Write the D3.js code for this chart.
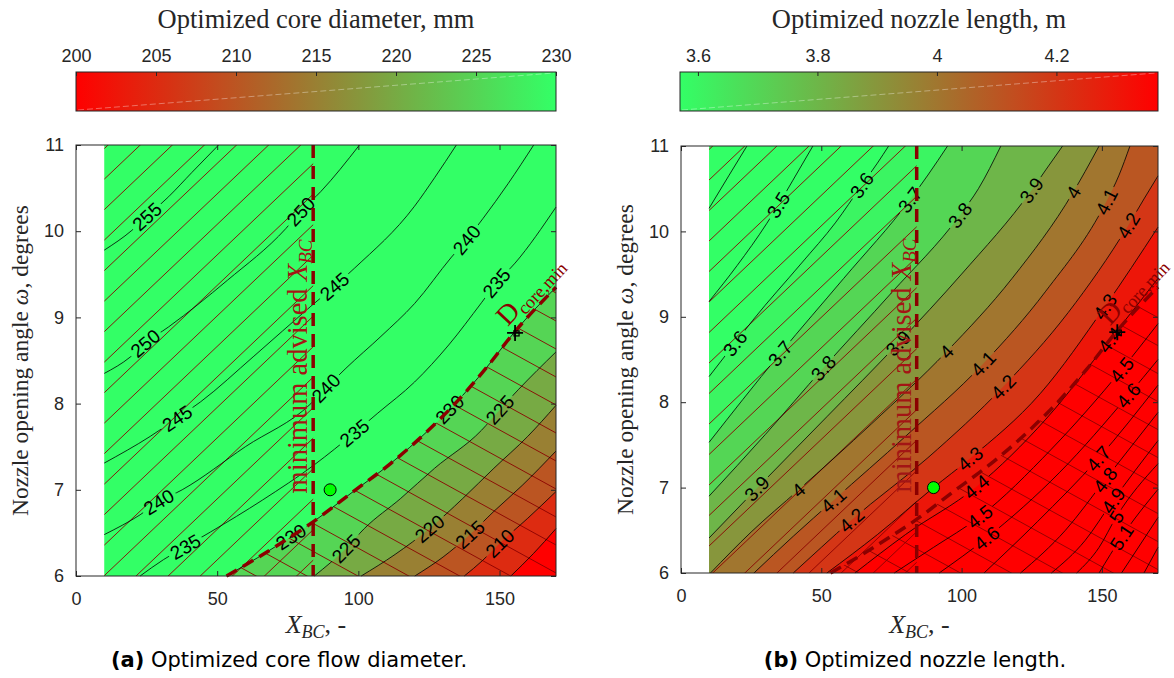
<!DOCTYPE html>
<html><head><meta charset="utf-8">
<script src="https://cdn.jsdelivr.net/npm/d3@7"></script>
<style>html,body{margin:0;padding:0;background:#fff;} svg{display:block;}</style>
</head><body>
<svg id="fig" width="1174" height="678"></svg>
<script>
// ================= DATA =================
const xTicks = [0, 50, 100, 150];
const yTicks = [6, 7, 8, 9, 10, 11];
const xDomain = [0, 170];
const yDomain = [6, 11];
const dataXMin = 10;
const minAdvisedXBC = 84;
const chosenPoint = [90, 7];
const dMinMarker = [155.5, 8.82];
const dLabelAnchor = [152.9, 8.89];
// D_core,min boundary curve (identical in both panels)
const dCurveX = [53.3, 64.2, 72.5, 83.2, 97.4, 111.6, 124.8, 135.4, 144.7, 155.3, 170];
const dCurveY = [6.0, 6.21, 6.38, 6.61, 6.96, 7.31, 7.69, 8.04, 8.39, 8.83, 9.35];

// ---- panel (a): optimized core diameter, mm ----
const colorTicksA = [200, 205, 210, 215, 220, 225, 230];
const colorDomainA = [200, 230];
const levelsA = [255, 250, 245, 240, 235, 230, 225, 220, 215, 210, 205];
const linesA = [
  [[10,9.78],[19.8,10.01],[25.1,10.17],[32.8,10.40],[41,10.68],[50.5,11.0]],
  [[10,8.35],[19.2,8.54],[24.5,8.70],[32.8,8.89],[53.6,9.43],[74.3,10.03],[79.6,10.23],[86.7,10.46],[100.4,11.0]],
  [[10,7.31],[26.3,7.62],[35.8,7.83],[44.1,8.02],[63,8.55],[83.2,9.13],[91.5,9.36],[98.6,9.57],[119.9,10.29],[127,10.62],[134.7,11.0]],
  [[10,6.48],[22.7,6.71],[29.3,6.86],[37.6,7.0],[60,7.5],[83.2,8.0],[88.5,8.18],[95.6,8.41],[108,8.78],[119.9,9.16],[133,9.7],[138.3,9.9],[144.2,10.15],[153,10.55],[162.1,11.0]],
  [[22.7,6.0],[31.0,6.19],[38.7,6.34],[47.6,6.51],[66,6.88],[84.4,7.29],[98.6,7.66],[106.9,7.89],[119.9,8.25],[132,8.68],[143.6,9.17],[148.9,9.4],[155.5,9.63],[170,10.28]],
  null, // 230 follows the D_core,min curve
  [[84.4,6.0],[95.6,6.32],[102.1,6.55],[115,6.9],[127,7.25],[143.6,7.69],[150.1,7.93],[156.6,8.16],[170,8.6]],
  [[101,6.0],[113,6.25],[125.2,6.55],[137,6.9],[148,7.25],[160,7.62],[170,7.98]],
  [[120,6.0],[130,6.22],[139.5,6.48],[148,6.75],[158,7.05],[170,7.45]],
  [[137.5,6.0],[144,6.18],[150.1,6.38],[160,6.67],[170,6.98]],
  [[154,6.0],[162,6.26],[170,6.55]]
];
const labelXA = [[25.1],[24.5,79.6],[35.8,91.5],[29.3,88.5,138.3],[38.7,98.6,148.9],[76.1,132.3],[95.6,150.1],[125.2],[139.5],[150.1],[]];

// ---- panel (b): optimized nozzle length, m ----
const colorTicksB = [3.6, 3.8, 4, 4.2];
const colorDomainB = [3.57, 4.37];
const levelsB = [3.4, 3.5, 3.6, 3.7, 3.8, 3.9, 4.0, 4.1, 4.2, 4.3, 4.4, 4.5, 4.6, 4.7, 4.8, 4.9, 5.0, 5.1, 5.2, 5.3];
const linesB = [
  [[10,10.27],[17,10.65],[23.5,11.0]],
  [[10,9.18],[20,9.6],[30.5,10.09],[34.7,10.31],[39.9,10.6],[47,11.0]],
  [[10,8.3],[19.2,8.69],[25.6,8.96],[43,9.63],[55,10.1],[64.4,10.54],[70,10.8],[74,11.0]],
  [[10,7.53],[22,8.03],[35.3,8.57],[58,9.45],[81.6,10.37],[88,10.66],[95,11.0]],
  [[10,6.9],[30,7.62],[50.7,8.4],[75,9.28],[99.4,10.19],[106,10.5],[114,11.0]],
  [[10,6.41],[27,6.99],[52,7.83],[77.4,8.69],[100,9.5],[124.9,10.48],[130,10.72],[136,11.0]],
  [[10.5,6.0],[25,6.48],[41.8,6.97],[68,7.75],[94.6,8.59],[118,9.45],[139.8,10.46],[144,10.7],[149,11.0]],
  [[26,6.0],[40,6.43],[54.3,6.85],[80,7.6],[107.7,8.45],[130,9.3],[151.6,10.35],[156,10.65],[160,11.0]],
  [[40,6.0],[50,6.3],[60.8,6.62],[88,7.35],[114.8,8.18],[138,9.05],[159.4,10.07],[165,10.38],[170,10.65]],
  [[52,6.0],[70,6.45],[90,7.0],[103,7.34],[128,8.1],[151.1,9.12],[170,10.05]],
  [[62,6.0],[80,6.45],[105.3,7.01],[130,7.8],[152.8,8.73],[170,9.45]],
  [[76,6.0],[90,6.3],[106.5,6.66],[132,7.45],[157,8.38],[170,8.92]],
  [[92,6.0],[108.9,6.41],[135,7.18],[159.4,8.08],[170,8.5]],
  [[108,6.0],[127,6.6],[148.7,7.34],[170,8.2]],
  [[121,6.0],[137,6.5],[151.1,7.09],[170,7.88]],
  [[132,6.0],[144,6.38],[154,6.85],[170,7.55]],
  [[141,6.0],[149,6.3],[155.2,6.66],[170,7.28]],
  [[149,6.0],[157,6.42],[170,6.98]],
  [[157,6.0],[170,6.65]],
  [[165,6.0],[170,6.3]]
];
const labelXB = [[],[34.7],[19.2,64.4],[35.3,81.6],[50.7,99.4],[27,77.4,124.9],[41.8,94.6,139.8],[54.3,107.7,151.6],[60.8,114.8,159.4],[103,151.1],[105.3,152.8],[106.5,157],[108.9,159.4],[148.7],[151.1],[154],[155.2],[157],[],[]];

// ================= STYLE =================
const W = 1174, H = 678;
const DR = '#8b0000';
const AX = '#262626';
const SANS = "'Liberation Sans', Arial, sans-serif";
const SERIF = "'Liberation Serif', 'Times New Roman', serif";
const CAP = "'DejaVu Sans', Verdana, sans-serif";
const RED = 'rgb(255,0,0)', GREEN = 'rgb(51,255,102)';

const svg = d3.select('#fig');
const defs = svg.append('defs');

function drawPanel(o) {
  const { id, x, y, levels, lines, labelX, color, mode, cb, cbTicks, cbTitle, cbTickFmt, caption, letter, capX } = o;
  const g = svg.append('g');
  const [X0, X1] = x.range();
  const [Yb, Yt] = y.range();
  const lineGen = d3.line().x(d => x(d[0])).y(d => y(d[1])).curve(d3.curveMonotoneX);
  const dPts = d3.zip(dCurveX, dCurveY);

  const [dx0, dx1] = [dataXMin, xDomain[1]], [dy0, dy1] = yDomain;
  const eps = 1e-6;
  function perim(p) {
    const [px, py] = p;
    if (Math.abs(py - dy1) < eps) return px - dx0;
    if (Math.abs(px - dx1) < eps) return (dx1 - dx0) + (dy1 - py);
    if (Math.abs(py - dy0) < eps) return (dx1 - dx0) + (dy1 - dy0) + (dx1 - px);
    return 2 * (dx1 - dx0) + (dy1 - dy0) + (py - dy0);
  }
  const corners = [[dx1, dy1], [dx1, dy0], [dx0, dy0]].map(c => ({ pt: c, p: perim(c) }));
  function regionPath(pts) {
    const pE = perim(pts[pts.length - 1]), pS = perim(pts[0]);
    const cs = corners.filter(c => c.p > pE + eps && c.p < pS - eps);
    return lineGen(pts) + cs.map(c => `L${x(c.pt[0])},${y(c.pt[1])}`).join('') + 'Z';
  }

  const contours = levels.map((lev, i) => ({ level: lev, pts: lines[i] || dPts, labels: labelX[i] }));

  // ---- filled bands ----
  const fillG = g.append('g');
  const cdom = color.domain();
  fillG.append('rect').attr('x', x(dataXMin)).attr('y', Yt).attr('width', X1 - x(dataXMin)).attr('height', Yb - Yt)
    .attr('fill', mode === 'below' ? color(d3.max(cdom)) : color(d3.min(cdom)));
  if (mode === 'below') {
    const low = contours.filter(c => c.level <= d3.max(cdom)).sort((a, b) => b.level - a.level);
    low.forEach((c, i) => {
      const fl = i + 1 < low.length ? low[i + 1].level : d3.min(cdom);
      fillG.append('path').attr('d', regionPath(c.pts)).attr('fill', color(fl));
    });
  } else {
    contours.slice().sort((a, b) => a.level - b.level).forEach(c => {
      fillG.append('path').attr('d', regionPath(c.pts)).attr('fill', color(c.level));
    });
  }

  // ---- hatching ----
  defs.append('clipPath').attr('id', `clipL-${id}`).append('rect')
    .attr('x', x(dataXMin)).attr('y', Yt).attr('width', x(minAdvisedXBC) - x(dataXMin)).attr('height', Yb - Yt);
  defs.append('clipPath').attr('id', `clipD-${id}`).append('path').attr('d', regionPath(dPts));
  function hatch(clipId, slope, spacing, through) {
    const xa = x(dataXMin), xb = X1;
    const cs = [Yt - slope * xa, Yt - slope * xb, Yb - slope * xa, Yb - slope * xb];
    const c0 = through[1] - slope * through[0];
    const k0 = Math.floor((d3.min(cs) - c0) / spacing), k1 = Math.ceil((d3.max(cs) - c0) / spacing);
    g.append('g').attr('clip-path', `url(#${clipId})`).selectAll('line').data(d3.range(k0, k1 + 1).map(k => c0 + k * spacing))
      .join('line').attr('x1', xa).attr('x2', xb).attr('y1', c => c + slope * xa).attr('y2', c => c + slope * xb)
      .attr('stroke', DR).attr('stroke-width', 0.9);
  }
  hatch(`clipL-${id}`, -0.95, 30.5, [x(22.75), Yt]);
  hatch(`clipD-${id}`, 0.55, 28, [x(minAdvisedXBC), y(6.61)]);

  // ---- contour lines with label gaps ----
  const mask = defs.append('mask').attr('id', `mask-${id}`).attr('maskUnits', 'userSpaceOnUse')
    .attr('x', 0).attr('y', 0).attr('width', W).attr('height', H);
  mask.append('rect').attr('x', 0).attr('y', 0).attr('width', W).attr('height', H).attr('fill', '#fff');
  const cg = g.append('g').attr('mask', `url(#mask-${id})`);
  const labG = g.append('g');
  contours.forEach(c => {
    const p = cg.append('path').attr('d', lineGen(c.pts)).attr('fill', 'none').attr('stroke', '#000').attr('stroke-width', 0.8);
    const node = p.node();
    const L = node.getTotalLength();
    const N = 300, samples = [];
    for (let i = 0; i <= N; i++) { const q = node.getPointAtLength(L * i / N); samples.push([q.x, q.y, L * i / N]); }
    c.labels.forEach(xv => {
      const tx = x(xv);
      let k = samples.findIndex(s => s[0] >= tx); if (k < 1) k = 1;
      const a = samples[k - 1], b = samples[k];
      const t = (tx - a[0]) / ((b[0] - a[0]) || 1);
      const len = a[2] + t * (b[2] - a[2]);
      const q = node.getPointAtLength(len);
      const q1 = node.getPointAtLength(Math.max(0, len - 8)), q2 = node.getPointAtLength(Math.min(L, len + 8));
      let ang = Math.atan2(q2.y - q1.y, q2.x - q1.x) * 180 / Math.PI;
      if (ang > 90) ang -= 180; if (ang < -90) ang += 180;
      const tr = `translate(${q.x},${q.y}) rotate(${ang})`;
      const txt = labG.append('text').attr('transform', tr).attr('text-anchor', 'middle').attr('dy', '0.36em')
        .attr('font-family', SANS).attr('font-size', 19).attr('fill', '#000').text(String(c.level));
      const w = txt.node().getComputedTextLength() + 6;
      mask.append('rect').attr('x', -w / 2).attr('y', -9).attr('width', w).attr('height', 18).attr('transform', tr).attr('fill', '#000');
    });
  });

  // ---- dashed limits ----
  g.append('path').attr('d', lineGen(dPts)).attr('fill', 'none').attr('stroke', DR).attr('stroke-width', 3.5)
    .attr('stroke-dasharray', '12,7');
  g.append('line').attr('x1', x(minAdvisedXBC)).attr('x2', x(minAdvisedXBC)).attr('y1', Yt).attr('y2', Yb)
    .attr('stroke', DR).attr('stroke-width', 3.5).attr('stroke-dasharray', '13,8');

  // ---- annotations ----
  const ma = g.append('text').attr('transform', `translate(${x(minAdvisedXBC) - 6},${(Yt + Yb) / 2 + 6}) rotate(-90)`)
    .attr('text-anchor', 'middle').attr('font-family', SERIF).attr('font-size', 28.5).attr('fill', '#a31515');
  ma.append('tspan').text('minimum advised ');
  ma.append('tspan').attr('font-style', 'italic').text('X');
  ma.append('tspan').attr('font-style', 'italic').attr('font-size', 19).attr('dy', 5).text('BC');

  const dl = g.append('text').attr('transform', `translate(${x(dLabelAnchor[0])},${y(dLabelAnchor[1])}) rotate(-47)`)
    .attr('font-family', SERIF).attr('fill', DR);
  dl.append('tspan').attr('font-size', 28).text('D');
  dl.append('tspan').attr('font-size', 18).attr('dy', 5).text('core,min');

  // ---- markers ----
  const mx = x(dMinMarker[0]), my = y(dMinMarker[1]);
  g.append('path').attr('d', `M${mx - 8},${my}H${mx + 8}M${mx},${my - 8}V${my + 8}`)
    .attr('stroke', '#000').attr('stroke-width', 1.8).attr('fill', 'none');
  g.append('rect').attr('x', mx - 1).attr('y', my - 2).attr('width', 5).attr('height', 5)
    .attr('stroke', '#000').attr('stroke-width', 1.3).attr('fill', 'none');
  g.append('circle').attr('cx', x(chosenPoint[0])).attr('cy', y(chosenPoint[1])).attr('r', 6)
    .attr('fill', '#00ff00').attr('stroke', '#000').attr('stroke-width', 1);

  // ---- axes ----
  const axStyle = s => { s.select('.domain').remove(); s.selectAll('line').attr('stroke', AX);
    s.selectAll('text').attr('font-family', SANS).attr('font-size', 18).attr('fill', AX); };
  g.append('g').attr('transform', `translate(0,${Yb})`).call(d3.axisBottom(x).tickValues(xTicks).tickSizeInner(-5).tickSizeOuter(0).tickPadding(16).tickFormat(d3.format('d'))).call(axStyle);
  g.append('g').attr('transform', `translate(0,${Yt})`).call(d3.axisTop(x).tickValues(xTicks).tickSizeInner(-5).tickSizeOuter(0).tickFormat('')).call(axStyle);
  g.append('g').attr('transform', `translate(${X0},0)`).call(d3.axisLeft(y).tickValues(yTicks).tickSizeInner(-5).tickSizeOuter(0).tickPadding(12).tickFormat(d3.format('d'))).call(axStyle);
  g.append('g').attr('transform', `translate(${X1},0)`).call(d3.axisRight(y).tickValues(yTicks).tickSizeInner(-5).tickSizeOuter(0).tickFormat('')).call(axStyle);
  g.append('rect').attr('x', X0).attr('y', Yt).attr('width', X1 - X0).attr('height', Yb - Yt)
    .attr('fill', 'none').attr('stroke', AX).attr('stroke-width', 1);

  // axis labels
  const xl = g.append('text').attr('x', (X0 + X1) / 2).attr('y', 633).attr('text-anchor', 'middle')
    .attr('font-family', SERIF).attr('font-size', 26).attr('fill', AX);
  xl.append('tspan').attr('font-style', 'italic').text('X');
  xl.append('tspan').attr('font-style', 'italic').attr('font-size', 18).attr('dy', 5).text('BC');
  xl.append('tspan').attr('dy', -5).text(', -');
  const yl = g.append('text').attr('transform', `translate(${X0 - 48},${(Yt + Yb) / 2}) rotate(-90)`).attr('text-anchor', 'middle')
    .attr('font-family', SERIF).attr('font-size', 23.5).attr('fill', AX);
  yl.append('tspan').text('Nozzle opening angle ');
  yl.append('tspan').attr('font-style', 'italic').text('ω');
  yl.append('tspan').text(', degrees');

  // ---- colorbar ----
  const [cx0, cx1] = cb.range();
  const cbY = 72, cbH = 39;
  const grad = defs.append('linearGradient').attr('id', `grad-${id}`).attr('x1', 0).attr('x2', 1).attr('y1', 0).attr('y2', 0);
  d3.range(0, 1.0001, 0.1).forEach(t => grad.append('stop').attr('offset', t).attr('stop-color', color(cb.invert(cx0 + t * (cx1 - cx0)))));
  g.append('rect').attr('x', cx0).attr('y', cbY).attr('width', cx1 - cx0).attr('height', cbH).attr('fill', `url(#grad-${id})`);
  g.append('line').attr('x1', cx0 + 2).attr('y1', cbY + cbH - 1).attr('x2', cx1 - 2).attr('y2', cbY + 1)
    .attr('stroke', '#fff').attr('stroke-opacity', 0.35).attr('stroke-width', 1).attr('stroke-dasharray', '6,3');
  g.append('g').attr('transform', `translate(0,${cbY})`)
    .call(d3.axisTop(cb).tickValues(cbTicks).tickSizeInner(-4).tickSizeOuter(0).tickPadding(10).tickFormat(cbTickFmt)).call(axStyle);
  g.append('rect').attr('x', cx0).attr('y', cbY).attr('width', cx1 - cx0).attr('height', cbH)
    .attr('fill', 'none').attr('stroke', AX).attr('stroke-width', 1);
  g.append('text').attr('x', (cx0 + cx1) / 2).attr('y', 28).attr('text-anchor', 'middle')
    .attr('font-family', SERIF).attr('font-size', 26.5).attr('fill', AX).text(cbTitle);

  // ---- caption ----
  const cap = g.append('text').attr('x', capX).attr('y', 667).attr('text-anchor', 'middle')
    .attr('font-family', CAP).attr('font-size', 21).attr('fill', '#000');
  cap.append('tspan').attr('font-weight', 'bold').text(`(${letter})`);
  cap.append('tspan').text(' ' + caption);
}

// ---- panel (a) ----
drawPanel({
  id: 'a',
  x: d3.scaleLinear(xDomain, [76, 556]),
  y: d3.scaleLinear(yDomain, [576, 145]),
  levels: levelsA, lines: linesA, labelX: labelXA,
  color: d3.scaleLinear(colorDomainA, [RED, GREEN]).interpolate(d3.interpolateRgb).clamp(true),
  mode: 'below',
  cb: d3.scaleLinear(colorDomainA, [76, 556]),
  cbTicks: colorTicksA, cbTickFmt: d3.format('d'),
  cbTitle: 'Optimized core diameter, mm',
  caption: 'Optimized core flow diameter.', letter: 'a', capX: 289
});
// ---- panel (b) ----
drawPanel({
  id: 'b',
  x: d3.scaleLinear(xDomain, [681, 1158]),
  y: d3.scaleLinear(yDomain, [573, 146]),
  levels: levelsB, lines: linesB, labelX: labelXB,
  color: d3.scaleLinear(colorDomainB, [GREEN, RED]).interpolate(d3.interpolateRgb).clamp(true),
  mode: 'above',
  cb: d3.scaleLinear(colorDomainB, [680, 1158]),
  cbTicks: colorTicksB, cbTickFmt: d => String(d),
  cbTitle: 'Optimized nozzle length, m',
  caption: 'Optimized nozzle length.', letter: 'b', capX: 915
});
</script>
</body></html>
